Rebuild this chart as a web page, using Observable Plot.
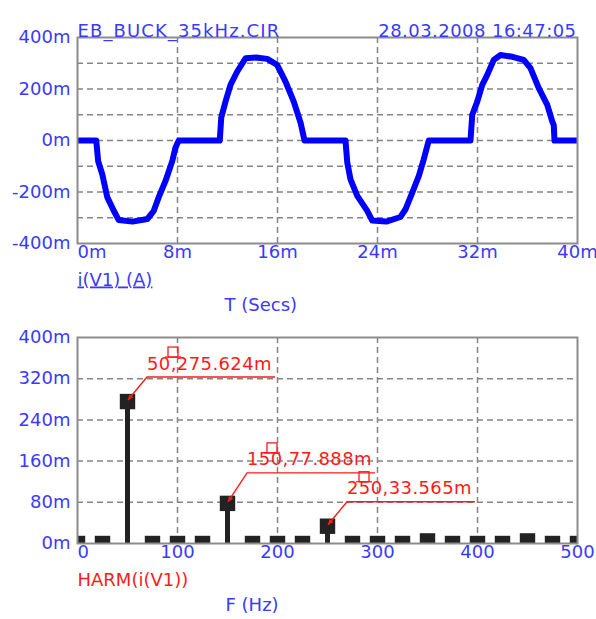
<!DOCTYPE html>
<html><head><meta charset="utf-8">
<script src="https://cdn.jsdelivr.net/npm/d3@7"></script>
<script src="https://cdn.jsdelivr.net/npm/@observablehq/plot@0.6"></script>
<style>
body{margin:0;background:#fff;}
#chart{position:relative;width:596px;height:619px;overflow:hidden;}
#chart svg{display:block;}
</style></head><body><div id="chart"></div>
<script>
// ---------- data ----------
const titleText = "EB_BUCK_35kHz.CIR";
const dateText = "28.03.2008 16:47:05";
const traceLabel = "i(V1) (A)";
const timeAxisLabel = "T (Secs)";
const harmLabel = "HARM(i(V1))";
const freqAxisLabel = "F (Hz)";

// transient current i(V1): time in ms, current in A
const timeMs = [0, 1.5, 1.65, 1.98, 2.38, 2.9, 3.3, 4.4, 5.58, 6.1, 6.5, 7.04, 7.58, 7.84, 8.1,
  11.38, 11.5, 11.84, 12.24, 12.78, 13.44, 14.3, 15.18, 15.98, 16.64, 17.3, 17.84, 18.16,
  21.44, 21.58, 21.84, 22.38, 23.18, 23.58, 24.7, 25.84, 26.24, 26.78, 27.3, 27.7, 28.1,
  31.44, 31.58, 31.98, 32.38, 32.78, 33.3, 33.84, 34.8, 35.7, 36.24, 36.9, 37.58, 37.98, 38.1, 38.16, 40];
const currentA = [0, 0, -0.08, -0.131, -0.22, -0.273, -0.309, -0.315, -0.305, -0.273, -0.22, -0.157, -0.08, -0.027, 0,
  0, 0.089, 0.151, 0.216, 0.268, 0.319, 0.322, 0.317, 0.293, 0.229, 0.151, 0.07, 0,
  0, -0.085, -0.151, -0.215, -0.273, -0.311, -0.315, -0.297, -0.267, -0.202, -0.138, -0.073, 0,
  0, 0.1, 0.151, 0.216, 0.255, 0.313, 0.332, 0.325, 0.313, 0.281, 0.203, 0.138, 0.074, 0.06, 0, 0];
const timeTicks = [0, 8, 16, 24, 32, 40];
const timeGrid = [8, 16, 24, 32];
const currentTicks = [-0.4, -0.2, 0, 0.2, 0.4];
const currentGrid = [-0.3, -0.2, -0.1, 0, 0.1, 0.2, 0.3];

// harmonic spectrum
const freqHz = [0, 25, 50, 75, 100, 125, 150, 175, 200, 225, 250, 275, 300, 325, 350, 375, 400, 425, 450, 475, 500];
const harmAmp = [0, 0, 0.275624, 0, 0, 0, 0.077888, 0, 0, 0, 0.033565, 0, 0, 0, 0.005, 0, 0, 0, 0.005, 0, 0];
const freqTicks = [0, 100, 200, 300, 400, 500];
const freqGrid = [100, 200, 300, 400];
const ampTicks = [0, 0.08, 0.16, 0.24, 0.32, 0.4];
const ampGrid = [0.08, 0.16, 0.24, 0.32];
const markedFreqs = [50, 150, 250];
const markedAmps = [0.275624, 0.077888, 0.033565];
// ---------- end data ----------

const FONT = "DejaVu Sans";
const BLUE_TXT = "#3a3aff";
const RED = "#ff1a1a";
const GRID = "#858585";
const FRAME = "#8c8c8c";
const FS = 18;

const wave = timeMs.map((t, k) => ({t, i: currentA[k]}));
const harm = freqHz.map((f, k) => ({f, a: harmAmp[k]}));
const fmtM = d => `${Math.round(d * 1000)}m`;

const grid = {stroke: GRID, strokeWidth: 1.5, strokeDasharray: "6,4"};
const txt = {fontSize: FS, fontFamily: FONT};

const topPlot = Plot.plot({
  width: 596, height: 320,
  marginLeft: 77, marginRight: 19, marginTop: 37, marginBottom: 77,
  x: {domain: [0, 40], axis: null},
  y: {domain: [-0.4, 0.4], axis: null},
  style: {fontFamily: FONT, fontSize: "18px", background: "white", overflow: "visible"},
  marks: [
    Plot.ruleY(currentGrid, grid),
    Plot.ruleX(timeGrid, grid),
    Plot.line(wave, {x: "t", y: "i", stroke: "#0000ff", strokeWidth: 6, strokeLinejoin: "round", clip: true}),
    Plot.frame({stroke: FRAME, strokeWidth: 2}),
    Plot.text(currentTicks, {...txt, y: d => d, frameAnchor: "left", textAnchor: "end", dx: -7, text: fmtM, fill: BLUE_TXT}),
    Plot.text(timeTicks.slice(0, 1), {...txt, x: d => d, frameAnchor: "bottom", textAnchor: "start", dy: 14, text: d => `${d}m`, fill: BLUE_TXT}),
    Plot.text(timeTicks.slice(1), {...txt, x: d => d, frameAnchor: "bottom", dy: 14, text: d => `${d}m`, fill: BLUE_TXT}),
    Plot.text([titleText], {...txt, frameAnchor: "top-left", textAnchor: "start", dy: -13, fill: BLUE_TXT, className: "ttl"}),
    Plot.text([dateText], {...txt, frameAnchor: "top-right", textAnchor: "end", dy: -13, dx: -1, fill: BLUE_TXT, className: "dte"}),
    Plot.text([traceLabel], {...txt, frameAnchor: "bottom-left", textAnchor: "start", dy: 42, fill: BLUE_TXT}),
    Plot.text([timeAxisLabel], {...txt, frameAnchor: "bottom-left", dx: 147, dy: 67, fill: BLUE_TXT})
  ]
});

const botPlot = Plot.plot({
  width: 596, height: 299,
  marginLeft: 77, marginRight: 19, marginTop: 17, marginBottom: 76,
  x: {domain: [0, 500], axis: null},
  y: {domain: [0, 0.4], axis: null},
  style: {fontFamily: FONT, fontSize: "18px", background: "white", overflow: "visible"},
  marks: [
    Plot.ruleY(ampGrid, grid),
    Plot.ruleX(freqGrid, grid),
    Plot.ruleX(harm, {x: "f", y1: 0, y2: "a", stroke: "#222", strokeWidth: 5}),
    Plot.dot(harm, {x: "f", y: "a", symbol: "square", r: 8.7, fill: "#222", stroke: "none", clip: true}),
    Plot.frame({stroke: FRAME, strokeWidth: 2}),
    Plot.text(ampTicks, {...txt, y: d => d, frameAnchor: "left", textAnchor: "end", dx: -7, text: fmtM, fill: BLUE_TXT}),
    Plot.text(freqTicks.slice(0, 1), {...txt, x: d => d, frameAnchor: "bottom", textAnchor: "start", dy: 14, text: d => `${d}`, fill: BLUE_TXT}),
    Plot.text(freqTicks.slice(1), {...txt, x: d => d, frameAnchor: "bottom", dy: 14, text: d => `${d}`, fill: BLUE_TXT}),
    Plot.text([harmLabel], {...txt, frameAnchor: "bottom-left", textAnchor: "start", dy: 42, fill: RED}),
    Plot.text([freqAxisLabel], {...txt, frameAnchor: "bottom-left", dx: 148, dy: 67, fill: BLUE_TXT})
  ]
});

// underline the trace label; widen the header texts a little
d3.select(topPlot).selectAll("text").each(function() {
  const s = this.textContent;
  if (s === traceLabel) d3.select(this).attr("text-decoration", "underline");
  if (s === titleText) d3.select(this).attr("letter-spacing", 1.1);
  if (s === dateText) d3.select(this).attr("letter-spacing", 0.45);
});

// cursor annotations, positioned from the plot's own scales
const annLayout = [
  {dx: 20, dy: -24, hx: 21},
  {dx: 20, dy: -30, hx: 20},
  {dx: 20, dy: -24, hx: 12}
];
const sx = botPlot.scale("x"), sy = botPlot.scale("y");
const ann = d3.select(botPlot).append("g");
markedFreqs.forEach((f, k) => {
  const px = sx.apply(f), py = sy.apply(markedAmps[k]);
  const L = annLayout[k];
  const lx = px + L.dx, ly = py + L.dy;
  const g = ann.append("g");
  g.append("path").attr("d", `M${px + 1},${py - 1}L${lx},${ly}L${lx + 128},${ly}`)
    .attr("fill", "none").attr("stroke", RED).attr("stroke-width", 1.4);
  const ang = Math.atan2(ly - py, lx - px);
  const a1 = ang + 0.45, a2 = ang - 0.45;
  g.append("path").attr("d", `M${px + 1},${py - 1}L${px + 1 + 6 * Math.cos(a1)},${py - 1 + 6 * Math.sin(a1)}L${px + 1 + 6 * Math.cos(a2)},${py - 1 + 6 * Math.sin(a2)}Z`)
    .attr("fill", RED);
  g.append("rect").attr("x", lx + L.hx).attr("y", ly - 30).attr("width", 10).attr("height", 10)
    .attr("fill", "none").attr("stroke", RED).attr("stroke-width", 1.3);
  g.append("path").attr("d", `M${lx + L.hx - 3},${ly - 20}L${lx + L.hx + 13},${ly - 20}`)
    .attr("stroke", RED).attr("stroke-width", 1.3);
  g.append("text").attr("x", lx).attr("y", ly - 7.5)
    .attr("text-anchor", "start").attr("letter-spacing", 0.4)
    .attr("font-family", FONT).attr("font-size", FS).attr("fill", RED)
    .text(`${f},${(markedAmps[k] * 1000).toFixed(3)}m`);
});

const chart = document.getElementById("chart");
chart.appendChild(topPlot);
chart.appendChild(botPlot);
</script>
</body></html>
